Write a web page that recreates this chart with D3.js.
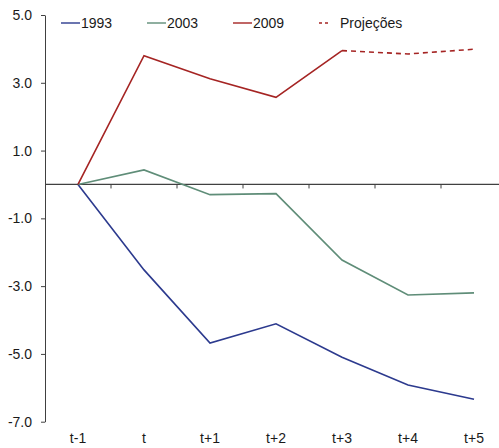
<!DOCTYPE html>
<html lang="en">
<head>
    <meta charset="utf-8">
    <title>Chart</title>
    <script src="https://cdn.jsdelivr.net/npm/d3@7"></script>
    <style>
        body { margin: 0; background: #fff; }
        svg { display: block; font-family: Arial, "Liberation Sans", sans-serif; }
        .axis path, .axis line { stroke: #404040; }
        .axis text { font-size: 14px; fill: #1a1a1a; }
    </style>
</head>
<body>
    <div id="chart"></div>
    <script>
        var categories = ['t-1', 't', 't+1', 't+2', 't+3', 't+4', 't+5'];
        var s1993 = [0, -2.52, -4.68, -4.11, -5.10, -5.92, -6.34];
        var s2003 = [0, 0.43, -0.30, -0.27, -2.23, -3.26, -3.20];
        var s2009 = [0, 3.80, 3.12, 2.57, 3.95, null, null];
        var proj2009 = [null, null, null, null, 3.95, 3.85, 3.99];
        var yTicks = [-7, -5, -3, -1, 1, 3, 5];

        var svgWidth = 499, svgHeight = 448;
        var plotLeft = 45, plotTop = 15, plotBottom = 421.7;
        var step = 66;

        var svg = d3.select('#chart').append('svg')
            .attr('width', svgWidth)
            .attr('height', svgHeight);

        var x = d3.scaleBand()
            .domain(categories)
            .range([plotLeft, plotLeft + step * categories.length])
            .padding(0);
        var y = d3.scaleLinear()
            .domain([-7, 5])
            .range([plotBottom, plotTop]);

        // y axis
        svg.append('g')
            .attr('class', 'axis')
            .attr('transform', `translate(${plotLeft},0)`)
            .call(d3.axisLeft(y).tickValues(yTicks).tickSize(4).tickSizeOuter(0).tickPadding(9)
                .tickFormat(d => d.toFixed(1)));

        // horizontal zero line with ticks at category boundaries
        svg.append('line')
            .attr('x1', plotLeft).attr('x2', svgWidth)
            .attr('y1', y(0)).attr('y2', y(0))
            .attr('stroke', '#404040').attr('stroke-width', 1.3);
        svg.selectAll('.xtick')
            .data(categories.slice(1))
            .enter().append('line')
            .attr('class', 'xtick')
            .attr('x1', d => x(d)).attr('x2', d => x(d))
            .attr('y1', y(0)).attr('y2', y(0) + 4)
            .attr('stroke', '#404040');

        // category labels at bottom
        svg.append('g')
            .attr('class', 'axis')
            .attr('transform', 'translate(0,433)')
            .call(d3.axisBottom(x).tickSize(0).tickPadding(0))
            .call(g => g.select('.domain').remove());

        var line = d3.line()
            .defined(d => d != null)
            .x((d, i) => x(categories[i]) + x.bandwidth() / 2)
            .y(d => y(d));

        var series = [
            { name: '1993', values: s1993, color: '#2c3a8e', dash: null },
            { name: '2003', values: s2003, color: '#5f8d78', dash: null },
            { name: '2009', values: s2009, color: '#a52423', dash: null },
            { name: 'Projeções', values: proj2009, color: '#a52423', dash: '5,4' }
        ];

        svg.selectAll('.series')
            .data(series)
            .enter().append('path')
            .attr('class', 'series')
            .attr('d', d => line(d.values))
            .attr('fill', 'none')
            .attr('stroke', d => d.color)
            .attr('stroke-width', 1.6)
            .attr('stroke-dasharray', d => d.dash);

        // legend
        var legendX = [61, 147, 233, 319];
        var lg = svg.selectAll('.legend')
            .data(series)
            .enter().append('g')
            .attr('class', 'legend')
            .attr('transform', (d, i) => `translate(${legendX[i]},23)`);
        lg.append('line')
            .attr('x1', 0).attr('x2', d => d.dash ? 12 : 19)
            .attr('y1', 0).attr('y2', 0)
            .attr('stroke', d => d.color)
            .attr('stroke-width', 1.4)
            .attr('stroke-dasharray', d => d.dash ? '3,3' : null);
        lg.append('text')
            .attr('x', d => d.dash ? 21 : 20)
            .attr('y', 5)
            .attr('font-size', 14)
            .attr('fill', '#1a1a1a')
            .text(d => d.name);
    </script>
</body>
</html>
